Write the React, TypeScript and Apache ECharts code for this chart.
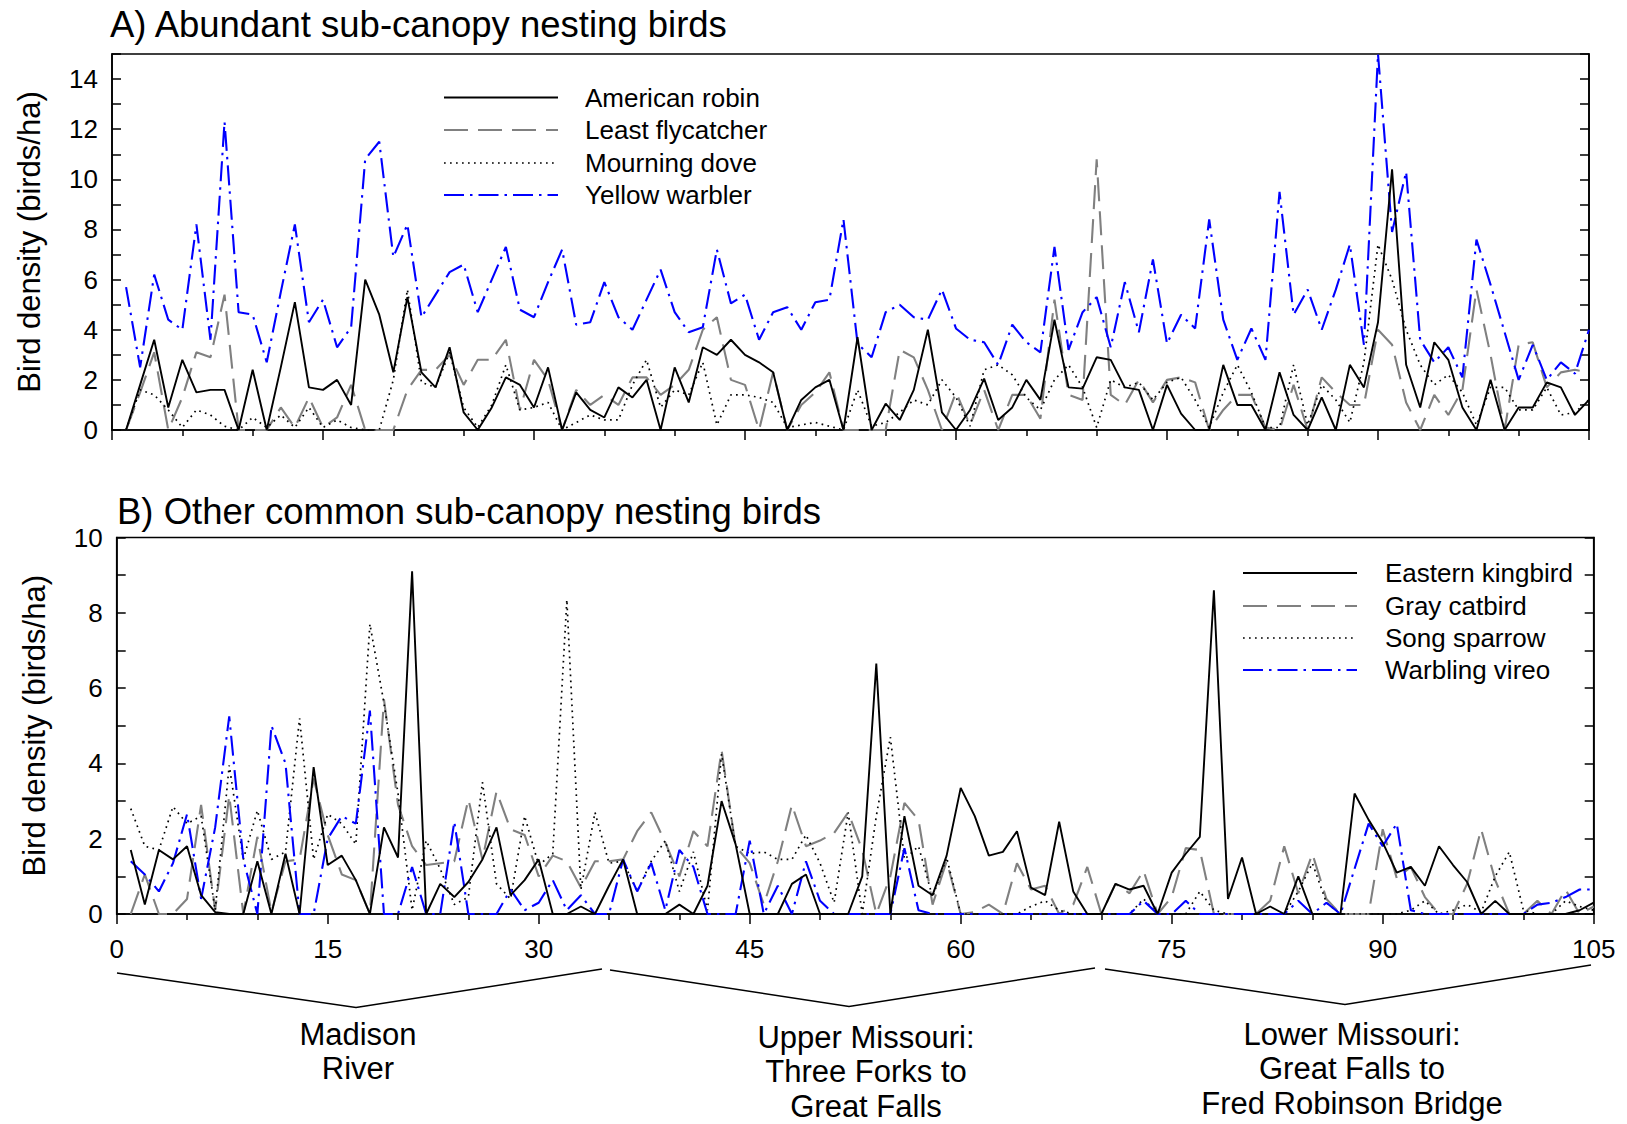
import React, { useEffect, useRef } from 'react';
import * as echarts from 'echarts';

// Site index along the river (x axis)
const sites = Array.from({ length: 105 }, (_, k) => k + 1);

// Panel A: abundant sub-canopy nesting birds (birds/ha)
const americanRobin = [
  0, 1.8, 3.6, 0.9, 2.8, 1.5, 1.6, 1.6, 0, 2.4,
  0, 2.5, 5.1, 1.7, 1.6, 2.0, 1.0, 6.0, 4.6, 2.3,
  5.3, 2.3, 1.7, 3.3, 0.7, 0, 0.9, 2.1, 1.8, 0.9,
  2.5, 0, 1.5, 0.8, 0.5, 1.7, 1.3, 2.0, 0, 2.5,
  1.1, 3.3, 3.0, 3.6, 3.0, 2.7, 2.3, 0, 1.2, 1.7,
  2.0, 0, 3.7, 0, 1.05, 0.4, 1.6, 4.0, 0.7, 0,
  0.8, 2.05, 0.4, 0.9, 2.0, 1.2, 4.4, 1.7, 1.65, 2.9,
  2.8, 1.7, 1.6, 0, 1.8, 0.65, 0, 0, 2.6, 1.0,
  1.0, 0, 2.3, 0.6, 0, 1.3, 0, 2.6, 1.7, 4.3,
  10.4, 2.6, 0.9, 3.5, 2.8, 0.9, 0, 2.0, 0, 0.9,
  0.9, 1.9, 1.7, 0.6, 1.2,
];
const leastFlycatcher = [
  0, 1.5, 3.1, 0, 1.3, 3.1, 2.9, 5.4, 0, 0,
  0, 0.9, 0.1, 1.3, 0.1, 0.5, 1.8, 0, 0, 0,
  1.6, 2.4, 2.4, 3.0, 1.8, 2.8, 2.8, 3.6, 0.8, 2.8,
  2.0, 0, 1.6, 1.0, 1.4, 1.0, 2.1, 2.1, 1.4, 1.8,
  2.4, 4.0, 4.5, 2.0, 1.8, 0, 2.3, 0, 1.0, 1.5,
  2.3, 0, 0, 0, 0, 3.2, 2.9, 1.6, 0, 1.5,
  0.2, 1.6, 0, 1.4, 1.4, 0.45, 5.2, 1.4, 1.2, 10.8,
  1.4, 1.0, 2.0, 1.1, 2.0, 2.1, 1.9, 0, 0.8, 1.4,
  1.4, 0.1, 0, 1.8, 0, 2.1, 1.5, 1.0, 1.0, 4.0,
  3.4, 1.1, 0, 1.4, 0.6, 1.6, 5.6, 3.0, 0, 3.4,
  3.5, 1.7, 2.3, 2.4, 2.3,
];
const mourningDove = [
  0, 1.6, 1.4, 0.8, 0.1, 0.8, 0.6, 0.15, 0, 0.5,
  0.1, 0.6, 0.1, 0.9, 0.1, 0.4, 0.1, 0, 0, 2.0,
  5.6, 1.9, 1.7, 3.1, 0.9, 0.1, 1.0, 2.6, 0.8, 0.9,
  1.1, 0, 0.3, 0.6, 0.4, 0.4, 1.8, 2.8, 0.9, 1.6,
  1.4, 2.7, 0.2, 1.4, 1.4, 1.3, 1.1, 0.1, 0.2, 0.3,
  0.15, 0, 1.6, 0.15, 0.3, 0.7, 1.2, 1.0, 2.0, 1.3,
  0.15, 2.4, 2.6, 2.2, 1.3, 0.8, 2.0, 2.6, 1.7, 0.1,
  2.0, 1.7, 1.9, 1.2, 1.9, 2.1, 1.2, 0.1, 1.5, 2.6,
  1.5, 0.1, 0.1, 2.6, 0.2, 1.8, 1.2, 0.3, 2.7, 7.4,
  6.0, 4.0, 2.6, 1.8, 2.2, 1.5, 0.2, 1.7, 1.7, 0.8,
  0.8, 1.7, 0.6, 0.7, 1.2,
];
const yellowWarbler = [
  5.7, 2.5, 6.2, 4.4, 4.0, 8.2, 3.6, 12.3, 4.7, 4.6,
  2.7, 5.5, 8.2, 4.3, 5.2, 3.3, 4.1, 10.8, 11.5, 6.9,
  8.2, 4.5, 5.4, 6.3, 6.6, 4.7, 6.0, 7.3, 4.8, 4.5,
  5.9, 7.2, 4.2, 4.3, 5.9, 4.5, 4.0, 5.2, 6.4, 4.7,
  3.9, 4.1, 7.2, 5.05, 5.4, 3.6, 4.7, 4.9, 4.0, 5.1,
  5.2, 8.4, 3.45, 2.9, 4.7, 5.0, 4.5, 4.4, 5.6, 4.05,
  3.6, 3.5, 2.6, 4.2, 3.5, 3.1, 7.3, 3.2, 4.7, 5.3,
  3.3, 5.9, 3.9, 6.8, 3.45, 4.6, 4.05, 8.4, 4.4, 2.8,
  4.05, 2.8, 9.5, 4.6, 5.6, 4.0, 5.6, 7.4, 3.4, 15.0,
  7.9, 10.3, 3.6, 2.7, 3.3, 2.1, 7.6, 5.8, 3.9, 2.0,
  3.4, 2.0, 2.7, 2.25, 4.0,
];

// Panel B: other common sub-canopy nesting birds (birds/ha)
const easternKingbird = [
  1.7, 0.25, 1.7, 1.45, 1.8, 0.5, 0.05, 0, 0, 1.4,
  0, 1.6, 0, 3.9, 1.3, 1.55, 0.9, 0, 2.3, 1.5,
  9.1, 0, 0.8, 0.45, 0.85, 1.45, 2.3, 0.5, 0.9, 1.45,
  0, 0, 0.2, 0, 0.75, 1.45, 0, 0, 0, 0.25,
  0, 0.75, 3.0, 1.85, 0, 0, 0, 0.8, 1.05, 0,
  0, 0, 1.0, 6.65, 0, 2.6, 0.75, 0.5, 1.55, 3.35,
  2.6, 1.55, 1.65, 2.2, 0.7, 0.5, 2.45, 0.6, 0, 0,
  0.8, 0.65, 0.75, 0, 1.1, 1.6, 2.05, 8.6, 0.4, 1.5,
  0, 0.2, 0, 1.0, 0, 0, 0, 3.2, 2.5, 1.9,
  1.1, 1.25, 0.75, 1.8, 1.3, 0.85, 0, 0.35, 0, 0,
  0, 0, 0, 0.1, 0.3,
];
const grayCatbird = [
  0, 1.05, 0, 0, 0.4, 2.9, 0.1, 3.15, 0, 2.05,
  0.05, 1.4, 1.45, 3.6, 2.1, 1.05, 0.9, 0, 5.7, 2.9,
  1.8, 1.3, 1.35, 1.4, 3.05, 1.45, 3.25, 2.25, 2.1, 1.0,
  1.55, 1.4, 0.7, 1.4, 1.4, 1.45, 2.2, 2.7, 1.9, 1.0,
  2.2, 1.8, 4.35, 1.8, 1.35, 0.25, 1.4, 2.9, 1.8, 1.95,
  2.15, 2.7, 1.7, 0, 1.0, 2.95, 2.5, 0.25, 1.4, 0,
  0.05, 0.25, 0, 1.35, 0.65, 0.75, 0, 0.25, 1.25, 0,
  0.8, 0.55, 1.15, 0, 0.45, 1.75, 1.7, 0, 0, 0,
  0, 0.35, 1.8, 0.55, 1.6, 0.4, 0, 0, 0, 2.25,
  0.95, 1.25, 0.45, 0, 0, 0.8, 2.25, 0.9, 0, 0,
  0.35, 0, 0.65, 0, 0.2,
];
const songSparrow = [
  2.8, 1.8, 1.7, 2.85, 2.4, 2.6, 0.1, 3.95, 1.45, 2.75,
  1.45, 1.65, 5.2, 1.45, 2.65, 2.4, 1.85, 7.7, 5.6, 3.2,
  0.1, 1.95, 1.2, 0.25, 0.45, 3.5, 0.8, 0.4, 2.6, 1.3,
  1.6, 8.35, 0.65, 2.7, 1.35, 1.4, 0.6, 1.4, 1.95, 0.6,
  1.65, 0.1, 4.25, 1.8, 1.6, 1.65, 1.45, 1.45, 2.1, 1.35,
  0.3, 2.7, 0, 2.6, 4.7, 1.45, 1.8, 0.45, 1.5, 0,
  0, 0, 0, 0, 0.2, 0.35, 0.1, 0, 0, 0,
  0, 0, 0.4, 0, 0, 0, 0.6, 0.1, 0, 0,
  0, 0, 0, 0.6, 1.35, 0.3, 0, 0, 0, 0,
  0, 0.1, 0.35, 0, 0.1, 0.25, 0.05, 1.0, 1.65, 0.1,
  0, 0, 0.35, 0.2, 0.1,
];
const warblingVireo = [
  1.4, 1.05, 0.6, 1.35, 2.65, 0.4, 2.3, 5.25, 1.45, 0,
  5.0, 4.0, 0, 0, 2.0, 2.6, 2.4, 5.4, 0, 0,
  1.25, 0, 0, 2.45, 0, 0, 0, 0.65, 0.1, 0.3,
  0.9, 0.1, 0.5, 0, 0, 1.45, 0.6, 1.35, 0.1, 1.7,
  1.25, 0, 0, 0, 1.95, 0, 0.75, 0, 1.4, 0.35,
  0, 0, 0, 0, 0, 1.75, 0.1, 0, 0, 0,
  0, 0, 0, 0, 0, 0, 0, 0, 0, 0,
  0, 0, 0.35, 0, 0, 0.35, 0, 0, 0, 0,
  0, 0, 0, 0.35, 0, 0.3, 0, 1.2, 2.4, 1.8,
  2.4, 0.1, 0, 0, 0, 0, 0, 0, 0, 0,
  0.25, 0.3, 0.45, 0.65, 0.65,
];

const xTickStep = 15;
const yLabelStep = 2;
const panelATitle = 'A) Abundant sub-canopy nesting birds';
const panelBTitle = 'B) Other common sub-canopy nesting birds';
const yAxisTitle = 'Bird density (birds/ha)';
const legendA = ['American robin', 'Least flycatcher', 'Mourning dove', 'Yellow warbler'];
const legendB = ['Eastern kingbird', 'Gray catbird', 'Song sparrow', 'Warbling vireo'];
const regions = [
  'Madison\nRiver',
  'Upper Missouri:\nThree Forks to\nGreat Falls',
  'Lower Missouri:\nGreat Falls to\nFred Robinson Bridge',
];

const FONT = '"Liberation Sans", Arial, Helvetica, sans-serif';

const lineStyles: any[] = [
  { color: '#000000', width: 1.9, type: 'solid' },
  { color: '#808080', width: 2.1, type: [24, 10] },
  { color: '#000000', width: 1.7, type: [1.7, 4.3] },
  { color: '#0000ff', width: 2.1, type: [20, 6, 2.5, 6] },
];

const pairs = (vals: number[]) => vals.map((v, k) => [sites[k], v]);

function makeX(gridIndex: number, showLabels: boolean) {
  return {
    type: 'value',
    gridIndex,
    min: 0,
    max: 105,
    interval: xTickStep,
    position: 'bottom',
    axisLine: { show: true, lineStyle: { color: '#000', width: 1.6 } },
    axisTick: { show: true, inside: false, length: 10, lineStyle: { color: '#000', width: 1.5 } },
    minorTick: { show: true, splitNumber: 3, length: 6, lineStyle: { color: '#000', width: 1.5 } },
    splitLine: { show: false },
    axisLabel: {
      show: showLabels,
      margin: 22,
      color: '#000',
      fontSize: 26,
      fontFamily: FONT,
    },
  };
}

function makeY(gridIndex: number, max: number, left: boolean) {
  return {
    type: 'value',
    gridIndex,
    min: 0,
    max,
    interval: 1,
    position: left ? 'left' : 'right',
    name: left ? yAxisTitle : '',
    nameLocation: 'middle',
    nameGap: 67,
    nameRotate: 90,
    nameTextStyle: { color: '#000', fontSize: 31, fontFamily: FONT },
    axisLine: { show: true, lineStyle: { color: '#000', width: 1.6 } },
    axisTick: { show: true, inside: true, length: 9, lineStyle: { color: '#000', width: 1.5 } },
    splitLine: { show: false },
    axisLabel: {
      show: left,
      margin: 14,
      color: '#000',
      fontSize: 26,
      fontFamily: FONT,
      formatter: (v: number) => (v % yLabelStep === 0 ? String(v) : ''),
    },
  };
}

function legendGraphics(names: string[], x1: number, x2: number, tx: number, rows: number[]) {
  const out: any[] = [];
  names.forEach((name, k) => {
    const ls = lineStyles[k];
    out.push({
      type: 'line',
      shape: { x1, y1: rows[k], x2, y2: rows[k] },
      style: {
        stroke: ls.color,
        lineWidth: ls.width,
        lineDash: Array.isArray(ls.type) ? ls.type : null,
      },
      silent: true,
    });
    out.push({
      type: 'text',
      x: tx,
      y: rows[k],
      style: {
        text: name,
        fill: '#000',
        fontSize: 26,
        fontFamily: FONT,
        align: 'left',
        verticalAlign: 'middle',
      },
      silent: true,
    });
  });
  return out;
}

export default function App() {
  const ref = useRef<HTMLDivElement>(null);
  useEffect(() => {
    if (!ref.current) return;
    const chart = echarts.init(ref.current, undefined, { renderer: 'svg' });
    const seriesA = [americanRobin, leastFlycatcher, mourningDove, yellowWarbler];
    const seriesB = [easternKingbird, grayCatbird, songSparrow, warblingVireo];
    const series: any[] = [];
    seriesA.forEach((vals, k) => {
      series.push({
        name: legendA[k],
        type: 'line',
        xAxisIndex: 0,
        yAxisIndex: 0,
        data: pairs(vals),
        symbol: 'none',
        lineStyle: { ...lineStyles[k] },
        silent: true,
        z: k === 0 ? 5 : 3,
      });
    });
    seriesB.forEach((vals, k) => {
      series.push({
        name: legendB[k],
        type: 'line',
        xAxisIndex: 1,
        yAxisIndex: 2,
        data: pairs(vals),
        symbol: 'none',
        lineStyle: { ...lineStyles[k] },
        silent: true,
        z: k === 0 ? 5 : 3,
      });
    });

    const bracketStyle = { stroke: '#000', lineWidth: 1.5, fill: null };
    const graphic: any[] = [
      {
        type: 'text', x: 110, y: 24,
        style: { text: panelATitle, fill: '#000', fontSize: 36.5, fontFamily: FONT, align: 'left', verticalAlign: 'middle' },
      },
      {
        type: 'text', x: 117, y: 511,
        style: { text: panelBTitle, fill: '#000', fontSize: 36.5, fontFamily: FONT, align: 'left', verticalAlign: 'middle' },
      },
      ...legendGraphics(legendA, 444, 558, 585, [97.5, 130, 163, 195]),
      ...legendGraphics(legendB, 1243, 1357, 1385, [573, 606, 638, 670]),
      { type: 'polyline', shape: { points: [[117, 973], [356, 1007.5], [602, 969]] }, style: bracketStyle },
      { type: 'polyline', shape: { points: [[610, 970], [849, 1006.5], [1095, 968]] }, style: bracketStyle },
      { type: 'polyline', shape: { points: [[1105, 969], [1345, 1004.5], [1591, 965]] }, style: bracketStyle },
      {
        type: 'text', x: 358, y: 1017,
        style: { text: regions[0], fill: '#000', fontSize: 31, lineHeight: 34.5, fontFamily: FONT, align: 'center', verticalAlign: 'top' },
      },
      {
        type: 'text', x: 866, y: 1020,
        style: { text: regions[1], fill: '#000', fontSize: 31, lineHeight: 34.5, fontFamily: FONT, align: 'center', verticalAlign: 'top' },
      },
      {
        type: 'text', x: 1352, y: 1017,
        style: { text: regions[2], fill: '#000', fontSize: 31, lineHeight: 34.5, fontFamily: FONT, align: 'center', verticalAlign: 'top' },
      },
    ];

    chart.setOption({
      animation: false,
      backgroundColor: '#ffffff',
      textStyle: { fontFamily: FONT },
      grid: [
        { left: 112, top: 54, width: 1477, height: 376, show: true, borderColor: '#000', borderWidth: 1.6, backgroundColor: 'transparent' },
        { left: 116.7, top: 537.5, width: 1477, height: 376.5, show: true, borderColor: '#000', borderWidth: 1.6, backgroundColor: 'transparent' },
      ],
      xAxis: [makeX(0, false), makeX(1, true)],
      yAxis: [makeY(0, 15, true), makeY(0, 15, false), makeY(1, 10, true), makeY(1, 10, false)],
      series,
      graphic,
    });
    return () => chart.dispose();
  }, []);
  return (
    <div
      ref={ref}
      style={{ position: 'absolute', left: 0, top: 0, width: 1627, height: 1124, background: '#fff' }}
    />
  );
}
